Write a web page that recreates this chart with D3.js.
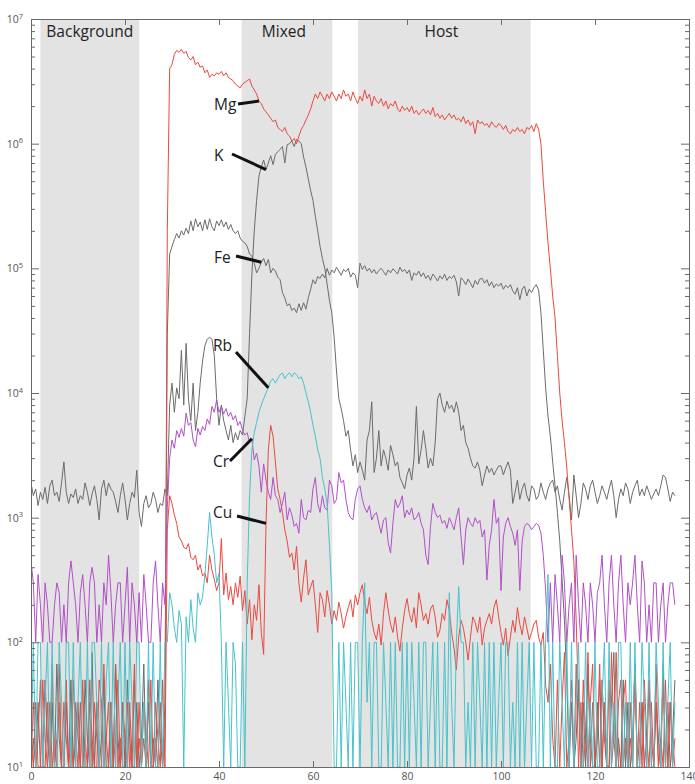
<!DOCTYPE html>
<html>
<head>
<meta charset="utf-8">
<script src="https://cdn.jsdelivr.net/npm/d3@7"></script>
<style>
  html, body { margin: 0; padding: 0; background: #fff; }
  svg { display: block; }
</style>
</head>
<body>
<svg id="chart" width="695" height="784"></svg>
<script>
// Time-resolved signal intensities (cps), one reading every 0.5 s from t = 0 to 137 s.
const step = 0.5;

const xTicks = [0, 20, 40, 60, 80, 100, 120, 140];
const yDecades = [1, 2, 3, 4, 5, 6, 7];

// Shaded ablation intervals (s)
const zoneNames = ["Background", "Mixed", "Host"];
const zoneStart = [2, 44.8, 69.6];
const zoneEnd = [23, 64.1, 106.3];

const K = [
  1900, 1500, 1700, 1250, 1600, 1400, 1750, 1300, 1800, 2000, 1500, 1600, 1350, 1900, 2800, 1600, 1300, 1550, 1450, 1700,
  1300, 1500, 1400, 1900, 1600, 1250, 1550, 1800, 1400, 960, 1700, 2000, 1500, 1900, 1700, 1600, 1350, 1100, 1500, 1900,
  1400, 960, 1300, 1600, 1450, 2400, 1100, 850, 1300, 1500, 1200, 1300, 1600, 1400, 1100, 1300, 1250, 1700, 1500, 8000,
  12000, 7000, 11000, 9000, 22000, 8000, 25000, 9000, 6000, 12000, 5000, 7000, 12000, 18000, 24000, 27000, 28000, 27000, 20000, 9000,
  5500, 8000, 6000, 5000, 4200, 5500, 4000, 4800, 4200, 5000, 4600, 6500, 9000, 30000, 90000, 200000, 350000, 550000, 650000, 740000,
  620000, 700000, 800000, 680000, 820000, 860000, 900000, 950000, 700000, 980000, 1000000, 1050000, 950000, 1080000, 1050000, 1000000, 780000, 650000, 520000, 420000,
  350000, 260000, 200000, 150000, 120000, 100000, 75000, 55000, 44000, 28000, 15000, 9000, 7500, 6000, 4500, 5000, 3500, 2600, 3200, 2300,
  2800, 2400, 2000, 4200, 5000, 8500, 2300, 3000, 5000, 2600, 3500, 3000, 2400, 3800, 3200, 2600, 2800, 2100, 1900, 1700,
  2200, 2500, 2000, 3000, 7800, 2700, 3500, 5000, 3600, 2500, 3000, 2600, 4000, 9000, 10000, 8000, 7000, 8600, 7500, 8000,
  7000, 8500, 7000, 5000, 5500, 4000, 3600, 3000, 2600, 2500, 2800, 2400, 1800, 2200, 2600, 2300, 2500, 2200, 2400, 2600,
  2600, 2200, 2500, 2800, 2400, 1300, 1600, 2000, 1400, 1700, 1900, 1500, 1350, 1800, 1700, 1400, 1500, 1900, 1600, 1400,
  1700, 1900, 2000, 1600, 1800, 1400, 1150, 1600, 2100, 1500, 960, 2200, 1500, 1000, 1300, 1900, 1700, 1400, 1800, 2000,
  1600, 1300, 1500, 1800, 1600, 1400, 1700, 2000, 1500, 1000, 1400, 1700, 1500, 1900, 1700, 1300, 1600, 1800, 2000, 1500,
  1700, 1500, 1800, 1600, 1400, 1550, 1700, 1500, 1800, 2200, 2100, 1700, 1350, 1600, 1500
];

const Fe = [
  0, 17, 0, 33, 0, 0, 50, 17, 0, 33, 0, 67, 17, 0, 0, 33, 0, 50, 0, 17,
  33, 0, 0, 50, 17, 0, 83, 0, 33, 0, 17, 50, 0, 0, 33, 0, 67, 17, 0, 33,
  0, 50, 17, 0, 0, 33, 0, 17, 67, 0, 33, 0, 17, 0, 50, 17, 0, 33, 30000, 130000,
  150000, 170000, 190000, 175000, 200000, 185000, 210000, 190000, 240000, 200000, 250000, 215000, 235000, 200000, 245000, 205000, 250000, 215000, 200000, 240000,
  220000, 245000, 215000, 235000, 205000, 225000, 200000, 190000, 200000, 175000, 165000, 160000, 150000, 130000, 125000, 110000, 92000, 100000, 112000, 120000,
  105000, 118000, 92000, 100000, 95000, 85000, 81000, 64000, 58000, 50000, 52000, 46000, 48000, 44000, 52000, 46000, 53000, 47000, 58000, 68000,
  81000, 75000, 86000, 83000, 90000, 84000, 100000, 88000, 97000, 92000, 102000, 95000, 88000, 98000, 94000, 100000, 85000, 92000, 88000, 70000,
  110000, 98000, 105000, 95000, 100000, 92000, 98000, 90000, 96000, 100000, 94000, 88000, 97000, 92000, 99000, 95000, 90000, 102000, 94000, 98000,
  91000, 97000, 80000, 92000, 88000, 95000, 86000, 92000, 83000, 88000, 80000, 90000, 85000, 79000, 87000, 82000, 90000, 80000, 86000, 83000,
  88000, 78000, 60000, 84000, 80000, 74000, 82000, 76000, 70000, 80000, 74000, 82000, 83000, 76000, 81000, 72000, 78000, 70000, 75000, 72000,
  76000, 68000, 73000, 70000, 74000, 66000, 62000, 70000, 56000, 68000, 72000, 60000, 68000, 64000, 70000, 74000, 67000, 44000, 22000, 11000,
  6500, 4500, 2800, 1800, 1100, 650, 316, 150, 50, 0, 33, 0, 17, 50, 0, 33, 0, 67, 17, 0,
  0, 33, 0, 50, 17, 0, 0, 33, 83, 0, 17, 0, 50, 0, 33, 0, 17, 67, 0, 0,
  33, 0, 17, 50, 0, 0, 33, 17, 0, 67, 0, 33, 0, 17, 50
];

const Mg = [
  17, 0, 33, 0, 0, 50, 17, 0, 33, 0, 17, 0, 67, 0, 33, 17, 0, 0, 50, 17,
  0, 33, 0, 17, 0, 50, 0, 33, 17, 0, 0, 67, 17, 33, 0, 0, 17, 50, 0, 33,
  17, 0, 33, 0, 50, 0, 17, 0, 33, 17, 0, 50, 0, 17, 0, 33, 0, 17, 200000, 4000000,
  4300000, 5200000, 5600000, 5400000, 5700000, 5300000, 5500000, 4900000, 4700000, 5000000, 4300000, 4500000, 4100000, 4200000, 3700000, 3900000, 3400000, 3600000, 3500000, 3700000,
  3600000, 3800000, 3500000, 3700000, 3400000, 3300000, 3200000, 3000000, 2900000, 2800000, 3000000, 3100000, 3200000, 3300000, 2900000, 2700000, 2500000, 2200000, 2100000, 1900000,
  1800000, 1700000, 1600000, 1500000, 1550000, 1350000, 1300000, 1250000, 1350000, 1200000, 1150000, 1050000, 1100000, 1000000, 1150000, 1300000, 1400000, 1550000, 1700000, 1900000,
  2200000, 2500000, 2300000, 2600000, 2400000, 2200000, 2500000, 2300000, 2600000, 2400000, 2200000, 2500000, 2300000, 2700000, 2400000, 2500000, 2200000, 2600000, 2300000, 2100000,
  2400000, 2200000, 2700000, 2300000, 2500000, 2000000, 2400000, 2200000, 2100000, 2300000, 2000000, 2200000, 1900000, 2100000, 2000000, 2200000, 1900000, 1800000, 2000000, 1850000,
  1950000, 1800000, 2000000, 1750000, 1850000, 1700000, 1800000, 1900000, 1750000, 1850000, 1700000, 1950000, 1650000, 1750000, 1600000, 1700000, 1550000, 1650000, 1750000, 1600000,
  1700000, 1550000, 1600000, 1500000, 1650000, 1450000, 1550000, 1400000, 1500000, 1200000, 1550000, 1450000, 1500000, 1400000, 1450000, 1350000, 1500000, 1400000, 1350000, 1450000,
  1400000, 1300000, 1400000, 1250000, 1200000, 1300000, 1250000, 1350000, 1250000, 1300000, 1200000, 1350000, 1300000, 1400000, 1250000, 1450000, 1300000, 1000000, 500000, 280000,
  160000, 100000, 60000, 40000, 20000, 10000, 6000, 4000, 2500, 1400, 800, 450, 150, 33, 0, 50, 17, 0, 33, 67,
  0, 17, 50, 0, 33, 0, 0, 83, 17, 0, 33, 50, 0, 17, 0, 33, 0, 67, 0, 17,
  33, 0, 0, 50, 17, 0, 33, 0, 17, 50, 0, 0, 33, 17, 0
];

const Cu = [
  0, 33, 0, 17, 50, 0, 0, 33, 0, 67, 0, 17, 33, 0, 0, 50, 0, 17, 0, 33,
  17, 0, 50, 0, 0, 33, 17, 0, 0, 50, 33, 0, 17, 0, 33, 0, 67, 0, 17, 0,
  0, 33, 0, 17, 67, 0, 33, 0, 17, 0, 50, 0, 0, 33, 17, 0, 50, 0, 800, 1500,
  1300, 1050, 900, 700, 650, 580, 560, 620, 480, 460, 500, 380, 420, 340, 360, 300, 500, 380, 320, 260,
  300, 680, 240, 360, 220, 280, 200, 300, 230, 340, 180, 260, 140, 220, 105, 200, 150, 290, 120, 80,
  900, 3500, 5500, 4500, 2800, 1700, 1400, 1100, 800, 650, 480, 520, 380, 590, 300, 210, 330, 460, 240, 280,
  316, 200, 120, 250, 220, 160, 260, 200, 140, 180, 150, 210, 170, 130, 160, 190, 220, 160, 240, 200,
  250, 290, 210, 170, 230, 150, 120, 105, 140, 95, 170, 250, 180, 140, 120, 160, 110, 85, 130, 180,
  225, 170, 145, 190, 130, 250, 200, 150, 170, 140, 185, 200, 160, 110, 125, 170, 150, 220, 180, 120,
  90, 60, 110, 150, 130, 100, 72, 110, 160, 145, 120, 160, 95, 130, 150, 170, 140, 190, 220, 160,
  120, 95, 130, 78, 110, 150, 120, 190, 140, 115, 160, 130, 105, 120, 140, 150, 110, 95, 120, 45,
  33, 67, 17, 0, 50, 0, 33, 83, 0, 17, 50, 0, 67, 0, 33, 0, 17, 83, 0, 33,
  0, 17, 67, 0, 33, 0, 50, 0, 17, 83, 0, 0, 33, 50, 0, 17, 0, 67, 0, 33,
  0, 50, 17, 0, 33, 0, 67, 0, 17, 0, 50, 0, 33, 0, 17
];

const Rb = [
  0, 100, 0, 100, 100, 0, 33, 100, 0, 100, 0, 0, 100, 33, 0, 100, 100, 0, 100, 0,
  33, 100, 0, 0, 100, 0, 100, 100, 33, 0, 100, 0, 50, 100, 0, 100, 0, 33, 100, 0,
  100, 0, 100, 33, 0, 100, 100, 0, 33, 0, 100, 0, 100, 0, 0, 100, 0, 100, 100, 250,
  200, 130, 100, 180, 140, 0, 160, 100, 220, 130, 100, 250, 200, 230, 350, 600, 1100, 700, 500, 300,
  360, 100, 0, 100, 33, 0, 100, 67, 0, 0, 100, 0, 300, 1500, 3500, 4800, 5800, 7000, 8000, 9000,
  10000, 11000, 12500, 13000, 12000, 13000, 14000, 14500, 13000, 14000, 14500, 13500, 14500, 14000, 13000, 13500, 12000, 10000, 8500, 7000,
  5500, 4500, 3500, 3000, 2100, 1700, 1300, 600, 250, 0, 0, 100, 0, 100, 33, 0, 100, 0, 100, 100,
  0, 100, 300, 33, 100, 0, 100, 100, 0, 0, 100, 33, 0, 100, 0, 100, 0, 0, 100, 0,
  100, 0, 100, 33, 0, 100, 0, 100, 100, 0, 33, 100, 0, 100, 0, 0, 100, 0, 250, 33,
  0, 100, 280, 100, 100, 0, 33, 0, 100, 0, 100, 33, 0, 100, 0, 100, 0, 100, 0, 33,
  100, 0, 100, 100, 0, 33, 0, 100, 0, 100, 0, 33, 100, 0, 100, 0, 0, 100, 0, 100,
  350, 0, 100, 0, 0, 100, 33, 0, 100, 0, 100, 0, 33, 100, 0, 0, 100, 0, 33, 0,
  100, 0, 0, 33, 100, 0, 100, 0, 33, 0, 100, 100, 0, 33, 0, 100, 0, 100, 0, 0,
  100, 33, 0, 100, 0, 0, 100, 33, 0, 100, 0, 33, 100, 0, 33
];

const Cr = [
  450, 300, 100, 350, 200, 100, 300, 200, 100, 100, 200, 300, 250, 100, 200, 100, 300, 450, 300, 200,
  100, 250, 350, 200, 100, 300, 400, 300, 100, 200, 100, 300, 200, 500, 250, 100, 200, 300, 300, 100,
  200, 400, 100, 300, 200, 100, 250, 100, 350, 200, 100, 100, 300, 450, 200, 100, 300, 200, 1200, 3000,
  4200, 3600, 5000, 4400, 5200, 4500, 6900, 5500, 5800, 4200, 3700, 5200, 4600, 5400, 5000, 6200, 5600, 7800, 7000, 8800,
  7000, 7800, 6800, 7500, 6500, 7000, 6100, 6600, 5500, 5900, 5000, 4600, 4800, 4000, 4300, 2900, 3300, 2600, 1600, 2700,
  2000, 1600, 1400, 2100, 1500, 1400, 1100, 1300, 1600, 960, 1200, 1050, 850, 900, 750, 1400, 1000, 960, 1150, 1100,
  1700, 2100, 1300, 1100, 1500, 1200, 1150, 2000, 1800, 1300, 1400, 2300, 1900, 2000, 1400, 1100, 1000, 960, 1400, 1700,
  1800, 1400, 1200, 1100, 1250, 960, 1050, 1100, 900, 750, 960, 1000, 630, 520, 900, 1400, 1200, 1300, 1500, 1000,
  1150, 1050, 1200, 960, 1000, 1100, 900, 800, 500, 420, 850, 1300, 1100, 1000, 1050, 900, 950, 820, 1000, 900,
  800, 1000, 1200, 700, 420, 800, 1000, 900, 850, 1000, 900, 950, 700, 800, 316, 600, 800, 1400, 900, 1000,
  260, 700, 900, 1000, 850, 750, 600, 800, 260, 650, 850, 900, 870, 800, 850, 900, 870, 750, 500, 260,
  100, 300, 100, 350, 200, 100, 500, 300, 100, 200, 300, 100, 500, 200, 100, 300, 200, 100, 300, 200,
  100, 250, 300, 500, 200, 100, 300, 500, 200, 100, 300, 500, 200, 100, 300, 200, 300, 500, 200, 100,
  450, 300, 100, 200, 100, 300, 300, 100, 200, 300, 100, 200, 300, 300, 200
];

// Element call-outs: name, time (s) where the leader meets its trace
const labelNames = ["Mg", "K", "Fe", "Rb", "Cr", "Cu"];
const labelAt = [48.5, 50, 49, 50.5, 47, 50];

const traces = [
  { name: "Fe", values: Fe, color: "#6b6b6b" },
  { name: "K",  values: K,  color: "#6b6b6b" },
  { name: "Mg", values: Mg, color: "#ea4a3f" },
  { name: "Cu", values: Cu, color: "#ea4a3f" },
  { name: "Cr", values: Cr, color: "#b24fc9" },
  { name: "Rb", values: Rb, color: "#46c3cc" }
];
traces.forEach(t => {
  if (t.values.length !== 275) throw new Error(t.name + " has " + t.values.length + " points");
});

const svg = d3.select("#chart");
const box = { left: 31, right: 689, top: 19, bottom: 767 };
const font = "'Open Sans', 'Noto Sans', sans-serif";

const x = d3.scaleLinear().domain([0, 140]).range([box.left, box.right]);
const y = d3.scaleLog().domain([10, 1e7]).range([box.bottom, box.top]).clamp(true);

svg.append("defs").append("clipPath").attr("id", "plot")
  .append("rect")
  .attr("x", box.left).attr("y", box.top)
  .attr("width", box.right - box.left).attr("height", box.bottom - box.top);

// Shaded intervals
svg.append("g").selectAll("rect").data(zoneNames).join("rect")
  .attr("x", (d, i) => x(zoneStart[i]))
  .attr("width", (d, i) => x(zoneEnd[i]) - x(zoneStart[i]))
  .attr("y", box.top)
  .attr("height", box.bottom - box.top)
  .attr("fill", "#e3e3e3");

// Traces
const line = d3.line()
  .x((d, i) => x(i * step))
  .y(d => y(d));

svg.append("g").attr("clip-path", "url(#plot)")
  .selectAll("path").data(traces).join("path")
  .attr("d", d => line(d.values))
  .attr("fill", "none")
  .attr("stroke", d => d.color)
  .attr("stroke-width", 1)
  .attr("stroke-linejoin", "round");

// Axes
const majorVals = yDecades.map(e => Math.pow(10, e));
const minorVals = [];
yDecades.slice(0, -1).forEach(e => {
  for (let k = 2; k < 10; k++) minorVals.push(k * Math.pow(10, e));
});

function styleAxis(g) {
  g.attr("color", "#6a6a6a");
  g.selectAll("text").attr("fill", "#555").attr("font-family", font).attr("font-size", "10.5px");
}

svg.append("g").attr("transform", `translate(0,${box.bottom})`)
  .call(d3.axisBottom(x).tickValues(xTicks).tickSizeInner(-6).tickSizeOuter(0).tickPadding(6))
  .call(styleAxis);

svg.append("g").attr("transform", `translate(0,${box.top})`)
  .call(d3.axisTop(x).tickValues(xTicks).tickSizeInner(-6).tickSizeOuter(0).tickFormat(""))
  .call(styleAxis);

const leftMajor = svg.append("g").attr("transform", `translate(${box.left},0)`)
  .call(d3.axisLeft(y).tickValues(majorVals).tickSizeInner(-8).tickSizeOuter(0).tickPadding(8).tickFormat(() => ""))
  .call(styleAxis);
leftMajor.selectAll(".tick text").each(function (d) {
  const t = d3.select(this);
  t.text("10");
  t.append("tspan").attr("dy", "-0.55em").attr("font-size", "7.5px").text(Math.round(Math.log10(d)));
});

svg.append("g").attr("transform", `translate(${box.left},0)`)
  .call(d3.axisLeft(y).tickValues(minorVals).tickSizeInner(-4).tickSizeOuter(0).tickFormat(""))
  .call(styleAxis);

svg.append("g").attr("transform", `translate(${box.right},0)`)
  .call(d3.axisRight(y).tickValues(majorVals).tickSizeInner(-8).tickSizeOuter(0).tickFormat(""))
  .call(styleAxis);

svg.append("g").attr("transform", `translate(${box.right},0)`)
  .call(d3.axisRight(y).tickValues(minorVals).tickSizeInner(-4).tickSizeOuter(0).tickFormat(""))
  .call(styleAxis);

// Interval names
svg.append("g").selectAll("text").data(zoneNames).join("text")
  .attr("x", (d, i) => (x(zoneStart[i]) + x(zoneEnd[i])) / 2 - (i ? 3 : 0))
  .attr("y", 37)
  .attr("text-anchor", "middle")
  .attr("font-family", font)
  .attr("font-size", "15.5px")
  .attr("fill", "#222")
  .text(d => d);

// Element call-outs with leader lines
const labelPos = [[214, 110], [214, 161], [214, 263], [213, 351], [213, 467], [213, 518]];
const leaderFrom = [[238, 104], [232, 154], [236, 256], [236, 352], [230, 461], [237, 516]];
const byName = Object.fromEntries(traces.map(t => [t.name, t.values]));

const callouts = svg.append("g");
labelNames.forEach((name, i) => {
  const vals = byName[name];
  const idx = Math.round(labelAt[i] / step);
  callouts.append("line")
    .attr("x1", leaderFrom[i][0]).attr("y1", leaderFrom[i][1])
    .attr("x2", x(idx * step)).attr("y2", y(vals[idx]))
    .attr("stroke", "#111").attr("stroke-width", 3);
  callouts.append("text")
    .attr("x", labelPos[i][0]).attr("y", labelPos[i][1])
    .attr("font-family", font).attr("font-size", "15.5px").attr("fill", "#222")
    .text(name);
});
</script>
</body>
</html>
